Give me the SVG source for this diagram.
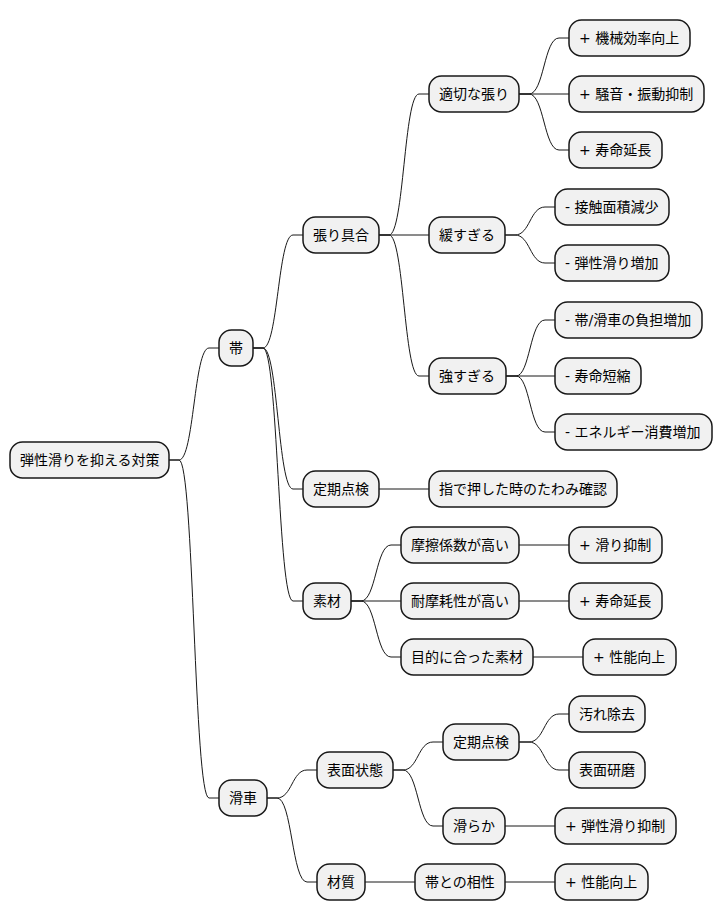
<svg xmlns="http://www.w3.org/2000/svg" width="722" height="921" viewBox="0 0 722 921">
<style>
.n rect{fill:#F1F1F1;stroke:#181818;stroke-width:1.5}
.n text{font-family:"DejaVu Sans","Noto Sans CJK JP",sans-serif;font-size:14px;fill:#000}
#connectors path{fill:none;stroke:#181818;stroke-width:1}
</style>
<rect width="722" height="921" fill="#FFFFFF"/>
<g id="connectors">
<path d="M169 460 L179 460 C194 460 194 348 209 348 L219 348"/>
<path d="M169 460 L179 460 C194 460 194 798 209 798 L219 798"/>
<path d="M253 348 L263 348 C278 348 278 235 293 235 L303 235"/>
<path d="M253 348 L263 348 C278 348 278 489 293 489 L303 489"/>
<path d="M253 348 L263 348 C278 348 278 601 293 601 L303 601"/>
<path d="M379 235 L389 235 C404 235 404 94 419 94 L429 94"/>
<path d="M379 235 L429 235"/>
<path d="M379 235 L389 235 C404 235 404 376 419 376 L429 376"/>
<path d="M519 94 L529 94 C544 94 544 38 559 38 L569 38"/>
<path d="M519 94 L569 94"/>
<path d="M519 94 L529 94 C544 94 544 150 559 150 L569 150"/>
<path d="M505 235 L515 235 C530 235 530 207 545 207 L555 207"/>
<path d="M505 235 L515 235 C530 235 530 263 545 263 L555 263"/>
<path d="M506 376 L516 376 C530 376 530 320 545 320 L555 320"/>
<path d="M506 376 L555 376"/>
<path d="M506 376 L516 376 C530 376 530 432 545 432 L555 432"/>
<path d="M379 489 L429 489"/>
<path d="M351 601 L361 601 C376 601 376 545 391 545 L401 545"/>
<path d="M351 601 L401 601"/>
<path d="M351 601 L361 601 C376 601 376 657 391 657 L401 657"/>
<path d="M519 545 L569 545"/>
<path d="M519 601 L569 601"/>
<path d="M533 657 L583 657"/>
<path d="M267 798 L277 798 C292 798 292 770 307 770 L317 770"/>
<path d="M267 798 L277 798 C292 798 292 882 307 882 L317 882"/>
<path d="M393 770 L403 770 C418 770 418 742 433 742 L443 742"/>
<path d="M393 770 L403 770 C418 770 418 826 433 826 L443 826"/>
<path d="M519 742 L529 742 C544 742 544 714 559 714 L569 714"/>
<path d="M519 742 L529 742 C544 742 544 770 559 770 L569 770"/>
<path d="M505 826 L555 826"/>
<path d="M365 882 L415 882"/>
<path d="M505 882 L555 882"/>
</g>
<g id="root" class="n"><rect x="10" y="442" width="159" height="36" rx="12.5"/><text x="20" y="465">弾性滑りを抑える対策</text></g>
<g id="obi" class="n"><rect x="219" y="330" width="34" height="36" rx="12.5"/><text x="229" y="353">帯</text></g>
<g id="kassha" class="n"><rect x="219" y="780" width="48" height="36" rx="12.5"/><text x="229" y="803">滑車</text></g>
<g id="hariguai" class="n"><rect x="303" y="217" width="76" height="36" rx="12.5"/><text x="313" y="240">張り具合</text></g>
<g id="teiki1" class="n"><rect x="303" y="471" width="76" height="36" rx="12.5"/><text x="313" y="494">定期点検</text></g>
<g id="sozai" class="n"><rect x="303" y="583" width="48" height="36" rx="12.5"/><text x="313" y="606">素材</text></g>
<g id="tekisetsu" class="n"><rect x="429" y="76" width="90" height="36" rx="12.5"/><text x="439" y="99">適切な張り</text></g>
<g id="yurusugi" class="n"><rect x="429" y="217" width="76" height="36" rx="12.5"/><text x="439" y="240">緩すぎる</text></g>
<g id="tsuyosugi" class="n"><rect x="429" y="358" width="77" height="36" rx="12.5"/><text x="439" y="381">強すぎる</text></g>
<g id="kikai" class="n"><rect x="569" y="20" width="121" height="36" rx="12.5"/><text x="579" y="43">+ 機械効率向上</text></g>
<g id="soon" class="n"><rect x="569" y="76" width="135" height="36" rx="12.5"/><text x="579" y="99">+ 騒音・振動抑制</text></g>
<g id="jumyo1" class="n"><rect x="569" y="132" width="93" height="36" rx="12.5"/><text x="579" y="155">+ 寿命延長</text></g>
<g id="sesshoku" class="n"><rect x="555" y="189" width="114" height="36" rx="12.5"/><text x="565" y="212">- 接触面積減少</text></g>
<g id="dansei1" class="n"><rect x="555" y="245" width="114" height="36" rx="12.5"/><text x="565" y="268">- 弾性滑り増加</text></g>
<g id="futan" class="n"><rect x="555" y="302" width="147" height="36" rx="12.5"/><text x="565" y="325">- 帯/滑車の負担増加</text></g>
<g id="tanshuku" class="n"><rect x="555" y="358" width="86" height="36" rx="12.5"/><text x="565" y="381">- 寿命短縮</text></g>
<g id="energy" class="n"><rect x="555" y="414" width="157" height="36" rx="12.5"/><text x="565" y="437">- エネルギー消費増加</text></g>
<g id="yubi" class="n"><rect x="429" y="471" width="188" height="36" rx="12.5"/><text x="439" y="494">指で押した時のたわみ確認</text></g>
<g id="masatsu" class="n"><rect x="401" y="527" width="118" height="36" rx="12.5"/><text x="411" y="550">摩擦係数が高い</text></g>
<g id="taimamo" class="n"><rect x="401" y="583" width="118" height="36" rx="12.5"/><text x="411" y="606">耐摩耗性が高い</text></g>
<g id="mokuteki" class="n"><rect x="401" y="639" width="132" height="36" rx="12.5"/><text x="411" y="662">目的に合った素材</text></g>
<g id="suberi" class="n"><rect x="569" y="527" width="93" height="36" rx="12.5"/><text x="579" y="550">+ 滑り抑制</text></g>
<g id="jumyo2" class="n"><rect x="569" y="583" width="93" height="36" rx="12.5"/><text x="579" y="606">+ 寿命延長</text></g>
<g id="seino1" class="n"><rect x="583" y="639" width="93" height="36" rx="12.5"/><text x="593" y="662">+ 性能向上</text></g>
<g id="hyomen" class="n"><rect x="317" y="752" width="76" height="36" rx="12.5"/><text x="327" y="775">表面状態</text></g>
<g id="zaishitsu" class="n"><rect x="317" y="864" width="48" height="36" rx="12.5"/><text x="327" y="887">材質</text></g>
<g id="teiki2" class="n"><rect x="443" y="724" width="76" height="36" rx="12.5"/><text x="453" y="747">定期点検</text></g>
<g id="nameraka" class="n"><rect x="443" y="808" width="62" height="36" rx="12.5"/><text x="453" y="831">滑らか</text></g>
<g id="yogore" class="n"><rect x="569" y="696" width="76" height="36" rx="12.5"/><text x="579" y="719">汚れ除去</text></g>
<g id="kenma" class="n"><rect x="569" y="752" width="76" height="36" rx="12.5"/><text x="579" y="775">表面研磨</text></g>
<g id="dansei2" class="n"><rect x="555" y="808" width="121" height="36" rx="12.5"/><text x="565" y="831">+ 弾性滑り抑制</text></g>
<g id="aisho" class="n"><rect x="415" y="864" width="90" height="36" rx="12.5"/><text x="425" y="887">帯との相性</text></g>
<g id="seino2" class="n"><rect x="555" y="864" width="93" height="36" rx="12.5"/><text x="565" y="887">+ 性能向上</text></g>
</svg>
